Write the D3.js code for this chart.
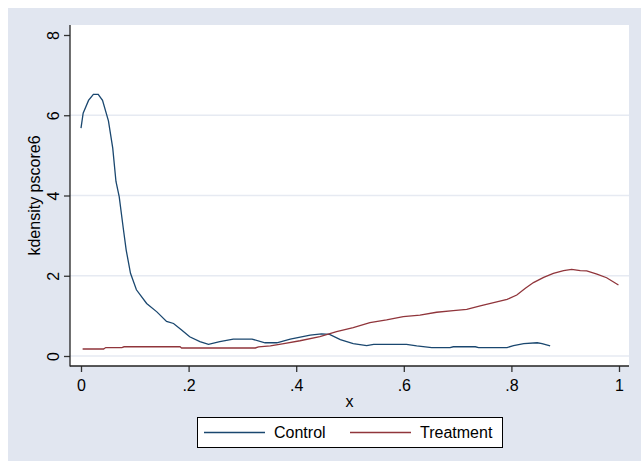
<!DOCTYPE html>
<html>
<head>
<meta charset="utf-8">
<script src="https://cdn.jsdelivr.net/npm/d3@7"></script>
<style>
  html, body { margin: 0; padding: 0; background: #ffffff; }
  svg { display: block; font-family: "Liberation Sans", Arial, sans-serif; }
</style>
</head>
<body>
<svg id="chart" width="641" height="461"></svg>
<script>
// ---- data ----
const xTicks = [0, 0.2, 0.4, 0.6, 0.8, 1];
const xTickLabels = ["0", ".2", ".4", ".6", ".8", "1"];
const yTicks = [0, 2, 4, 6, 8];
const yGrid = [0, 2, 4, 6];

const controlX = [0.000, 0.004, 0.014, 0.023, 0.032, 0.040, 0.051, 0.059, 0.065, 0.071, 0.079, 0.084,
  0.092, 0.103, 0.122, 0.141, 0.159, 0.172, 0.187, 0.202, 0.221, 0.237, 0.258, 0.283, 0.318, 0.342,
  0.364, 0.389, 0.426, 0.447, 0.462, 0.482, 0.506, 0.531, 0.544, 0.605, 0.624, 0.652, 0.686, 0.692,
  0.733, 0.739, 0.792, 0.804, 0.823, 0.848, 0.857, 0.872];
const controlY = [5.68, 6.05, 6.37, 6.52, 6.52, 6.37, 5.86, 5.18, 4.35, 3.97, 3.14, 2.64,
  2.06, 1.65, 1.31, 1.10, 0.86, 0.81, 0.65, 0.48, 0.36, 0.29, 0.36, 0.42, 0.42, 0.33,
  0.33, 0.42, 0.52, 0.55, 0.54, 0.41, 0.31, 0.26, 0.29, 0.29, 0.25, 0.21, 0.21, 0.23,
  0.23, 0.21, 0.21, 0.26, 0.31, 0.33, 0.31, 0.25];

const treatX = [0.003, 0.042, 0.046, 0.076, 0.080, 0.184, 0.187, 0.324, 0.330, 0.352, 0.377, 0.407,
  0.444, 0.475, 0.506, 0.537, 0.568, 0.599, 0.630, 0.661, 0.692, 0.717, 0.742, 0.767, 0.792, 0.810,
  0.826, 0.841, 0.860, 0.878, 0.897, 0.912, 0.928, 0.940, 0.959, 0.977, 0.999];
const treatY = [0.175, 0.175, 0.21, 0.21, 0.23, 0.23, 0.20, 0.20, 0.23, 0.25, 0.31, 0.38,
  0.48, 0.61, 0.71, 0.83, 0.90, 0.98, 1.02, 1.09, 1.13, 1.16, 1.25, 1.33, 1.41, 1.52,
  1.69, 1.83, 1.96, 2.06, 2.13, 2.16, 2.13, 2.12, 2.04, 1.95, 1.77];

const seriesNames = ["Control", "Treatment"];
const seriesColors = ["#1a476f", "#90353b"];
const xTitle = "x";
const yTitle = "kdensity pscore6";

// ---- layout ----
const svg = d3.select("#chart");
const W = 641, H = 461;
const plot = { left: 70, top: 25, right: 629, bottom: 366 };

svg.append("rect").attr("x", 8).attr("y", 8).attr("width", W - 8).attr("height", H - 8)
  .attr("fill", "#e1e6f0");
svg.append("rect").attr("x", plot.left).attr("y", plot.top)
  .attr("width", plot.right - plot.left).attr("height", plot.bottom - plot.top)
  .attr("fill", "#ffffff");

const x = d3.scaleLinear().domain([0, 1]).range([81, 619]);
const y = d3.scaleLinear().domain([0, 8]).range([356, 35]);

// gridlines
svg.append("g").selectAll("line").data(yGrid).join("line")
  .attr("x1", plot.left).attr("x2", plot.right)
  .attr("y1", d => y(d)).attr("y2", d => y(d))
  .attr("stroke", "#e6eaf2").attr("stroke-width", 1.5);

// axes
const fs = 16;
const yAxis = svg.append("g").attr("transform", `translate(${plot.left},0)`)
  .call(d3.axisLeft(y).tickValues(yTicks).tickSize(6).tickPadding(0).tickFormat(d3.format("d")));
yAxis.select(".domain").remove();
yAxis.selectAll(".tick line").attr("stroke", "#333").attr("stroke-width", 1.3);
yAxis.selectAll(".tick text")
  .attr("x", 0).attr("dy", null)
  .attr("transform", "translate(-17,0) rotate(-90)")
  .attr("text-anchor", "middle")
  .attr("dominant-baseline", "central")
  .attr("font-size", fs).attr("fill", "#000")
  .attr("font-family", "Liberation Sans, Arial, sans-serif");

const xAxis = svg.append("g").attr("transform", `translate(0,${plot.bottom})`)
  .call(d3.axisBottom(x).tickValues(xTicks).tickSize(6).tickPadding(8)
    .tickFormat((d, i) => xTickLabels[i]));
xAxis.select(".domain").remove();
xAxis.selectAll(".tick line").attr("stroke", "#333").attr("stroke-width", 1.3);
xAxis.selectAll(".tick text").attr("font-size", fs).attr("fill", "#000")
  .attr("font-family", "Liberation Sans, Arial, sans-serif");

// axis lines
svg.append("line").attr("x1", plot.left).attr("x2", plot.left)
  .attr("y1", plot.top).attr("y2", plot.bottom + 0.5)
  .attr("stroke", "#222").attr("stroke-width", 1.3);
svg.append("line").attr("x1", plot.left).attr("x2", plot.right)
  .attr("y1", plot.bottom).attr("y2", plot.bottom)
  .attr("stroke", "#222").attr("stroke-width", 1.3);

// axis titles
svg.append("text").attr("x", (plot.left + plot.right) / 2).attr("y", 407)
  .attr("text-anchor", "middle").attr("font-size", fs).text(xTitle);
svg.append("text")
  .attr("transform", `translate(40,${(plot.top + plot.bottom) / 2}) rotate(-90)`)
  .attr("text-anchor", "middle").attr("font-size", fs).text(yTitle);

// lines
const line = d3.line().x(d => x(d[0])).y(d => y(d[1]));
const controlData = controlX.map((v, i) => [v, controlY[i]]);
const treatData = treatX.map((v, i) => [v, treatY[i]]);
svg.append("path").datum(controlData).attr("d", line)
  .attr("fill", "none").attr("stroke", seriesColors[0]).attr("stroke-width", 1.3);
svg.append("path").datum(treatData).attr("d", line)
  .attr("fill", "none").attr("stroke", seriesColors[1]).attr("stroke-width", 1.3);

// legend
const lg = svg.append("g");
lg.append("rect").attr("x", 197.5).attr("y", 417.5).attr("width", 305).attr("height", 30)
  .attr("fill", "#fff").attr("stroke", "#000").attr("stroke-width", 1);
const legendItems = [
  { name: seriesNames[0], color: seriesColors[0], x1: 204, x2: 265, tx: 274 },
  { name: seriesNames[1], color: seriesColors[1], x1: 350, x2: 411, tx: 420 }
];
legendItems.forEach(it => {
  lg.append("line").attr("x1", it.x1).attr("x2", it.x2).attr("y1", 432.5).attr("y2", 432.5)
    .attr("stroke", it.color).attr("stroke-width", 1.3);
  lg.append("text").attr("x", it.tx).attr("y", 432.5).attr("dominant-baseline", "central")
    .attr("font-size", fs).text(it.name);
});
</script>
</body>
</html>
